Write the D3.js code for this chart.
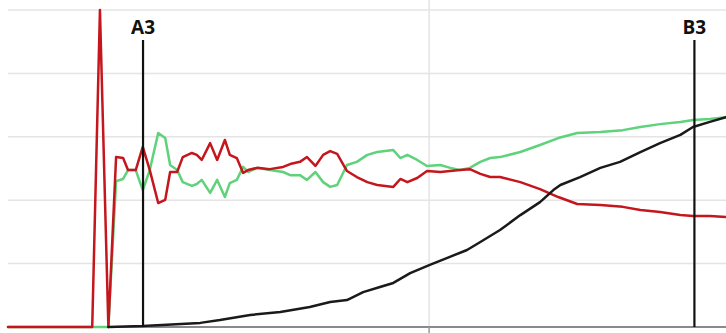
<html><head>
    <script src="https://d3js.org/d3.v7.min.js"></script>
    <style>
      body { margin: 0; background: #fff; }
      .grid line { stroke: #e4e4e4; stroke-width: 1.5px; }
      .series { fill: none; stroke-width: 2.5px; stroke-linejoin: round; stroke-linecap: round; }
      .marker { stroke: #111; stroke-width: 2.2px; }
      .markerLabel { font-family: "Open Sans", sans-serif; font-weight: 700; font-size: 19px; fill: #111; }
    </style>
  </head>
  <body>
    <script>
        // x positions shared by the red / green series
        const steps = [0, 12.0, 13.1, 14.3, 15.4, 16.4, 17.1, 18.2, 19.2, 20.2, 21.4, 22.4, 23.1, 24.1, 24.9,
                       26.2, 26.9, 27.6, 28.8, 29.8, 30.9, 31.6, 32.6, 33.5, 34.2, 35.5, 37.3, 39.2, 40.2,
                       41.6, 42.6, 43.8, 44.9, 45.9, 46.9, 48.3, 49.7, 51.2, 52.6, 54.9, 55.9, 56.9, 58.3,
                       59.7, 61.6, 63.0, 64.4, 65.8, 67.3, 68.7, 70.1, 73.0, 75.8, 78.4, 81.1, 84.4, 87.6,
                       90.1, 92.9, 95.8, 97.6, 100.0, 102.3]

        const redValues = [0, 0, 100, 0, 53.6, 53.3, 49.5, 49.5, 56.8, 49.5, 39.1, 40.1, 48.9, 48.9, 53.6,
                           54.9, 54.3, 52.7, 58.0, 52.7, 59.0, 54.3, 53.3, 48.6, 49.5, 50.2, 49.8, 50.5, 51.4,
                           52.1, 53.6, 50.8, 54.3, 55.5, 54.6, 49.2, 47.3, 45.7, 44.8, 44.2, 46.7, 45.7, 47.0,
                           49.2, 48.9, 49.2, 49.5, 49.8, 48.3, 47.3, 47.3, 45.7, 43.5, 41.0, 38.8, 38.5, 37.9,
                           36.9, 36.3, 35.3, 35.0, 35.0, 34.7]

        const greenValues = [0, 0, 0, 0, 46.0, 46.7, 49.5, 49.5, 43.2, 49.5, 61.2, 59.6, 51.1, 49.5, 45.7,
                             44.5, 45.1, 46.4, 42.3, 46.4, 41.0, 45.4, 46.4, 50.5, 48.9, 50.2, 49.5, 48.9, 47.9,
                             47.9, 46.4, 48.9, 45.7, 44.2, 44.8, 51.1, 52.1, 54.3, 55.2, 55.8, 53.3, 54.3, 52.7,
                             50.8, 51.1, 50.2, 49.5, 50.2, 52.1, 53.3, 53.6, 55.2, 57.4, 59.6, 61.2, 61.5, 62.1,
                             63.1, 64.0, 64.7, 65.3, 65.6, 66.2]

        // black (cumulative) series
        const blackSteps = [14.3, 19.2, 27.4, 30.2, 34.5, 38.8, 43.0, 45.9, 48.3, 50.6, 53.0, 54.9, 57.3,
                            60.1, 62.6, 65.4, 67.3, 70.1, 73.0, 75.8, 77.7, 78.7, 81.5, 84.4, 87.2, 90.1,
                            92.9, 95.8, 97.6, 100.0, 102.3]
        const blackValues = [0, 0.3, 1.3, 2.2, 3.8, 4.7, 6.3, 7.9, 8.5, 11.0, 12.6, 13.9, 17.0,
                             19.6, 21.8, 24.3, 26.8, 30.6, 35.3, 39.4, 43.2, 44.8, 47.3, 50.2, 52.1, 55.2,
                             58.0, 60.6, 63.1, 64.7, 66.2]

        const markerNames = ["A3", "B3"]
        const markerSteps = [19.24, 97.8]
        const yTicks = [20, 40, 60, 80, 100]
        const xTicks = [60]

        //Create SVG
        const svg = d3.select("body")
                      .append("svg")
                      .attr("width", 726)
                      .attr("height", 333)

        const margin = {top: 10, bottom: 6, left: 8, right: 0}
        const width = 726
        const height = 333

        //Scales
        const x = d3.scaleLinear().domain([0, 102.3]).range([margin.left, width - margin.right])
        const y = d3.scaleLinear().domain([0, 100]).range([height - margin.bottom, margin.top])

        //Gridlines
        const grid = svg.append("g").attr("class", "grid")
        grid.selectAll("line.h").data(yTicks)
            .join("line")
            .attr("class", "h")
            .attr("x1", x(0)).attr("x2", width)
            .attr("y1", d => y(d)).attr("y2", d => y(d))

        grid.selectAll("line.v").data(xTicks)
            .join("line")
            .attr("class", "v")
            .attr("x1", d => x(d)).attr("x2", d => x(d))
            .attr("y1", 0).attr("y2", y(0))

        //Baseline + tick
        svg.append("line")
           .attr("x1", x(0)).attr("x2", width)
           .attr("y1", y(0)).attr("y2", y(0))
           .style("stroke", "#8a8a8a").style("stroke-width", 2)

        svg.selectAll("line.xtick").data(xTicks)
           .join("line")
           .attr("class", "xtick")
           .attr("x1", d => x(d)).attr("x2", d => x(d))
           .attr("y1", y(0)).attr("y2", height)
           .style("stroke", "#999").style("stroke-width", 1.5)

        //Lines
        const line = d3.line().x(d => x(d[0])).y(d => y(d[1]))

        svg.append("path")
           .attr("class", "series")
           .attr("d", line(d3.zip(steps, greenValues)))
           .style("stroke", "#5fd27b")

        svg.append("path")
           .attr("class", "series")
           .attr("d", line(d3.zip(steps, redValues)))
           .style("stroke", "#c4161c")

        svg.append("path")
           .attr("class", "series")
           .attr("d", line(d3.zip(blackSteps, blackValues)))
           .style("stroke", "#1a1a1a")

        //Markers
        const markers = svg.selectAll("g.mk").data(d3.zip(markerNames, markerSteps))
                           .join("g")
                           .attr("class", "mk")

        markers.append("line")
               .attr("class", "marker")
               .attr("x1", d => x(d[1])).attr("x2", d => x(d[1]))
               .attr("y1", 40).attr("y2", y(0))

        markers.append("text")
               .attr("class", "markerLabel")
               .attr("x", d => x(d[1]))
               .attr("y", 34)
               .attr("text-anchor", "middle")
               .text(d => d[0])
    </script>
  </body></html>
